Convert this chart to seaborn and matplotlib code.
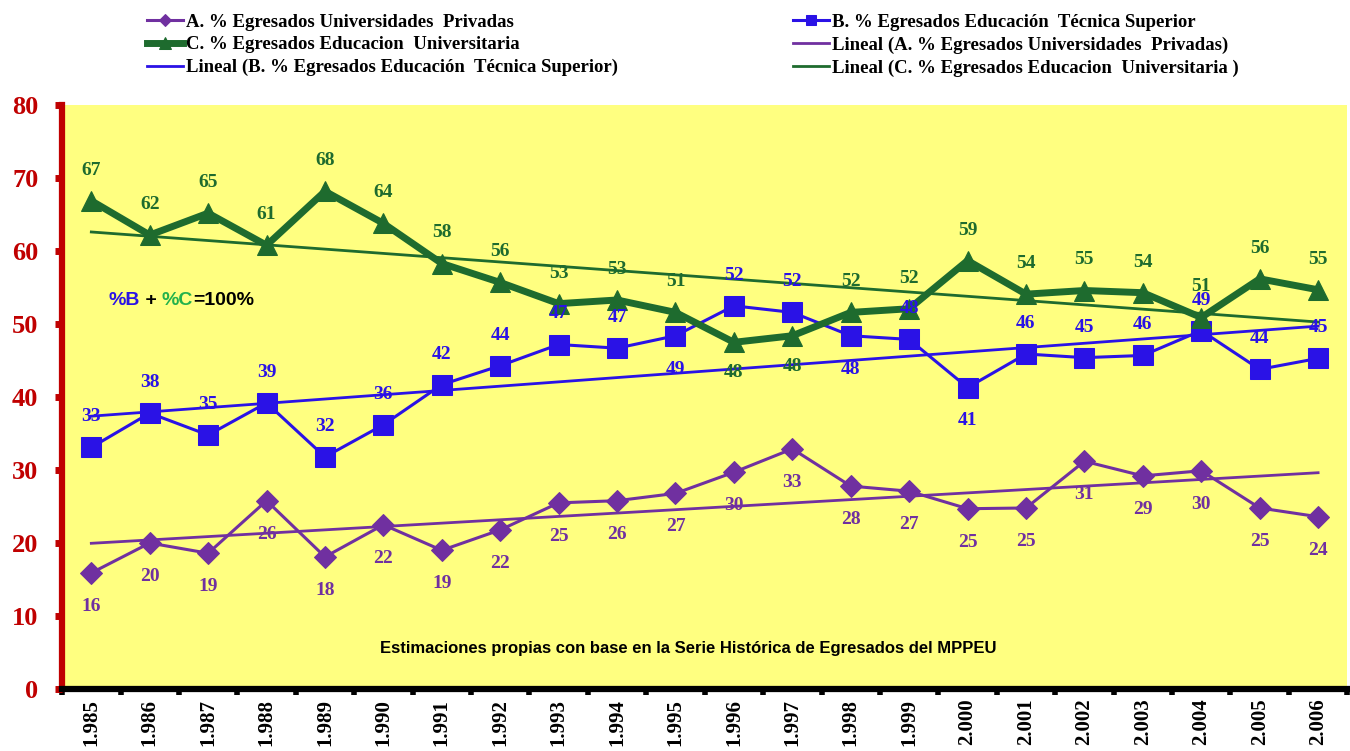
import numpy as np
import pandas as pd
import matplotlib.pyplot as plt
import seaborn as sns
from matplotlib.offsetbox import TextArea, HPacker, AnnotationBbox

# datos
years = ['1.985', '1.986', '1.987', '1.988', '1.989', '1.990', '1.991', '1.992',
         '1.993', '1.994', '1.995', '1.996', '1.997', '1.998', '1.999', '2.000',
         '2.001', '2.002', '2.003', '2.004', '2.005', '2.006']
pct_a = [15.9, 20.0, 18.6, 25.8, 18.1, 22.5, 19.0, 21.8, 25.5, 25.8, 26.8,
         29.7, 32.9, 27.8, 27.1, 24.7, 24.8, 31.2, 29.2, 29.9, 24.8, 23.6]
pct_c = [66.9, 62.2, 65.2, 60.8, 68.2, 63.8, 58.3, 55.7, 52.8, 53.3, 51.6,
         47.5, 48.4, 51.6, 52.1, 58.7, 54.1, 54.6, 54.3, 50.9, 56.2, 54.7]
pct_b = [round(100 - c, 1) for c in pct_c]

lbl_a = [16, 20, 19, 26, 18, 22, 19, 22, 25, 26, 27, 30, 33, 28, 27, 25, 25, 31, 29, 30, 25, 24]
lbl_b = [33, 38, 35, 39, 32, 36, 42, 44, 47, 47, 49, 52, 52, 48, 48, 41, 46, 45, 46, 49, 44, 45]
lbl_c = [67, 62, 65, 61, 68, 64, 58, 56, 53, 53, 51, 48, 48, 52, 52, 59, 54, 55, 54, 51, 56, 55]

# posicion de etiquetas (True = debajo del punto)
below_b = [False] * 10 + [True, False, False, True, False, True] + [False] * 6
below_c = [False] * 11 + [True, True] + [False] * 9

name_a = 'A. % Egresados Universidades  Privadas'
name_b = 'B. % Egresados Educación  Técnica Superior'
name_c = 'C. % Egresados Educacion  Universitaria'

col_a = '#7030A0'
col_b = '#2A12E6'
col_c = '#1E6B2E'

x = np.arange(len(years))
df = pd.DataFrame({'x': x, 'A': pct_a, 'B': pct_b, 'C': pct_c})

fig = plt.figure(figsize=(13.5, 7.51), dpi=100)
ax = fig.add_axes([0.046, 0.0826, 0.952, 0.7774])
ax.set_facecolor('#FFFF80')

serif = ['Liberation Serif', 'DejaVu Serif']

# series
sns.lineplot(data=df, x='x', y='A', ax=ax, color=col_a, lw=2.2, marker='D',
             markersize=11, markeredgecolor=col_a, label=name_a, zorder=4)
sns.lineplot(data=df, x='x', y='B', ax=ax, color=col_b, lw=2.2, marker='s',
             markersize=14, markeredgecolor=col_b, label=name_b, zorder=4)
sns.lineplot(data=df, x='x', y='C', ax=ax, color=col_c, lw=5, marker='^',
             markersize=15, markeredgecolor=col_c, label=name_c, zorder=5)

# lineas de tendencia
for key, col, nm in [('A', col_a, name_a), ('B', col_b, name_b), ('C', col_c, name_c + ' ')]:
    k, b = np.polyfit(df['x'], df[key], 1)
    sns.lineplot(x=x, y=k * x + b, ax=ax, color=col, lw=2, label=f'Lineal ({nm})', zorder=3)

# etiquetas de datos
lab = dict(ha='center', va='center', fontsize=14, fontweight='bold', family=serif,
           textcoords='offset points', zorder=6)
for i in x:
    ax.annotate(str(lbl_a[i]), (i, pct_a[i]), xytext=(0, -24), color=col_a, **lab)
    ax.annotate(str(lbl_b[i]), (i, pct_b[i]), xytext=(0, -24 if below_b[i] else 22), color=col_b, **lab)
    ax.annotate(str(lbl_c[i]), (i, pct_c[i]), xytext=(0, -22 if below_c[i] else 22), color=col_c, **lab)

ax.set_xlim(-0.5, len(years) - 0.5)
ax.set_ylim(0, 80)
ax.set_xlabel('')
ax.set_ylabel('')

ax.set_xticks(np.arange(-0.5, len(years), 1))
ax.set_xticklabels([])
ax.set_xticks(x, minor=True)
ax.set_xticklabels(years, minor=True, rotation=90, va='top', fontsize=15, fontweight='bold', family=serif)
ax.tick_params(axis='x', which='minor', length=0, pad=7)
ax.tick_params(axis='x', which='major', length=4, width=4, color='black', direction='out')

ax.set_yticks(range(0, 81, 10))
ax.set_yticklabels([str(v) for v in range(0, 81, 10)], fontsize=19, fontweight='bold',
                   family=serif, color='#C00000')
ax.tick_params(axis='y', length=5, width=5, color='#C00000', pad=12)

for s in ['top', 'right']:
    ax.spines[s].set_visible(False)
ax.spines['left'].set_color('#C00000')
ax.spines['left'].set_linewidth(4.5)
ax.spines['bottom'].set_color('black')
ax.spines['bottom'].set_linewidth(4.5)

# nota %B + %C
parts = [TextArea(t, textprops=dict(color=c, fontsize=14, fontweight='bold', family='Liberation Sans'))
         for t, c in [('%B', col_b), (' + ', 'black'), ('%C', '#22B14C'), ('=100%', 'black')]]
box = HPacker(children=parts, align='baseline', pad=0, sep=0)
ax.add_artist(AnnotationBbox(box, (0.036, 0.666), xycoords='axes fraction', frameon=False,
                             box_alignment=(0, 0.5), pad=0))

ax.text(0.487, 0.07, 'Estimaciones propias con base en la Serie Histórica de Egresados del MPPEU',
        transform=ax.transAxes, ha='center', va='center', fontsize=12, fontweight='bold',
        family='Liberation Sans')

# leyenda arriba, dos bloques
h, l = ax.get_legend_handles_labels()
ax.get_legend().remove()
leg_kw = dict(loc='upper left', frameon=False, handlelength=1.9, handletextpad=0.2,
              labelspacing=0.3, markerscale=0.55, borderpad=0, borderaxespad=0,
              prop=dict(family=serif, weight='bold', size=13.5))
fig.legend([h[i] for i in [0, 2, 4]], [l[i] for i in [0, 2, 4]],
           bbox_to_anchor=(147 / 1350, 0.982), **leg_kw)
fig.legend([h[i] for i in [1, 3, 5]], [l[i] for i in [1, 3, 5]],
           bbox_to_anchor=(793 / 1350, 0.982), **leg_kw)

fig.savefig('out.png', dpi=100)
